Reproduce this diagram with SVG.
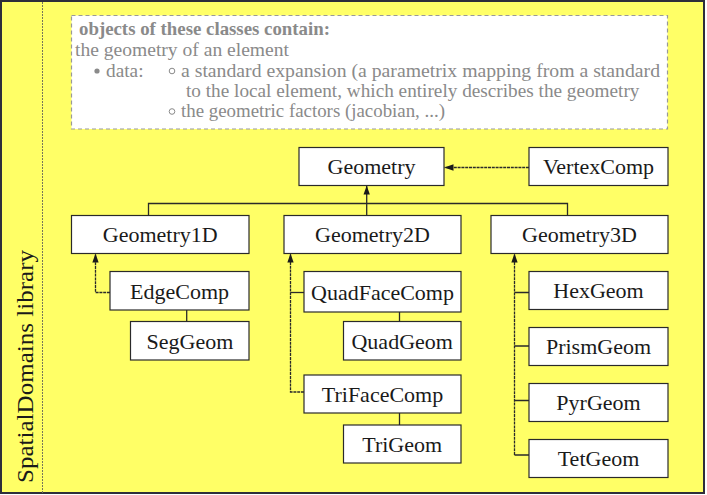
<svg xmlns="http://www.w3.org/2000/svg" width="707" height="495" viewBox="0 0 707 495">
<style>
.node rect{fill:#fff;stroke:#2a2a2a;stroke-width:1.2}
.node text{font-family:"Liberation Serif","Times New Roman",serif;font-size:22px;fill:#1a1a1a;text-anchor:middle}
.note{font-family:"Liberation Serif","Times New Roman",serif;font-size:19.5px;fill:#8a8a8a}
.solid{fill:none;stroke:#2a2a2a;stroke-width:1.3}
.dot{fill:none;stroke:#2a2a2a;stroke-width:1.3;stroke-dasharray:3,0.8}
</style>
<defs>
<marker id="arr" viewBox="0 0 10 10" refX="10" refY="5" markerWidth="9" markerHeight="9" markerUnits="userSpaceOnUse" orient="auto">
<path d="M0,1.5 L10,5 L0,8.5 Z" fill="#1a1a1a"/>
</marker>
</defs>
<rect x="1" y="1" width="703" height="492" fill="#ffff66" stroke="#2e2e3a" stroke-width="2"/>
<line x1="42.5" y1="2" x2="42.5" y2="493" stroke="#77775a" stroke-width="1" stroke-dasharray="2,1"/>
<text transform="translate(33,483) rotate(-90)" font-family="'Liberation Serif','Times New Roman',serif" font-size="24" fill="#1a1a1a" textLength="233" lengthAdjust="spacingAndGlyphs">SpatialDomains library</text>

<g id="note">
<rect x="71.5" y="15.5" width="596" height="113.5" fill="#fff" stroke="#999" stroke-width="1.2" stroke-dasharray="4,3"/>
<text class="note" x="79" y="35" font-weight="bold" font-size="19" textLength="251" lengthAdjust="spacingAndGlyphs">objects of these classes contain:</text>
<text class="note" x="75" y="55.5" textLength="214" lengthAdjust="spacingAndGlyphs">the geometry of an element</text>
<circle cx="97" cy="71" r="2.6" fill="#8a8a8a"/>
<text class="note" x="106" y="76.5" textLength="37.5" lengthAdjust="spacingAndGlyphs">data:</text>
<circle cx="172" cy="71" r="2.8" fill="none" stroke="#8a8a8a" stroke-width="1"/>
<text class="note" x="181" y="76.5" textLength="479" lengthAdjust="spacingAndGlyphs">a standard expansion (a parametrix mapping from a standard</text>
<text class="note" x="186" y="96.5" textLength="453.5" lengthAdjust="spacingAndGlyphs">to the local element, which entirely describes the geometry</text>
<circle cx="172" cy="111.5" r="2.8" fill="none" stroke="#8a8a8a" stroke-width="1"/>
<text class="note" x="181" y="117" textLength="264" lengthAdjust="spacingAndGlyphs">the geometric factors (jacobian, ...)</text>
</g>

<g id="connectors">
<line class="dot" x1="529" y1="167.5" x2="444.5" y2="167.5" marker-end="url(#arr)"/>
<path class="solid" d="M148.5,215 V203.5 H567.5 V215"/>
<line class="solid" x1="366.7" y1="215" x2="366.7" y2="185.5" marker-end="url(#arr)"/>
<path class="dot" d="M110,292.5 H95.5 V253.5" marker-end="url(#arr)"/>
<line class="solid" x1="186.7" y1="310" x2="186.7" y2="321"/>
<path class="solid" d="M304,292.5 H290.5"/>
<path class="dot" d="M304,392 H290.5 V253.5" marker-end="url(#arr)"/>
<line class="solid" x1="399.5" y1="312" x2="399.5" y2="321"/>
<line class="solid" x1="399.5" y1="413" x2="399.5" y2="425"/>
<path class="dot" d="M514.5,455 V253.5" marker-end="url(#arr)"/>
<path class="solid" d="M514.5,292.5 H529 M514.5,346 H529 M514.5,400.5 H529 M514.5,455 H529"/>
</g>

<g id="Geometry" class="node"><rect x="299" y="147.5" width="145" height="38"/><text x="371.5" y="174">Geometry</text></g>
<g id="VertexComp" class="node"><rect x="529" y="147.5" width="139" height="38"/><text x="598.5" y="174">VertexComp</text></g>
<g id="Geometry1D" class="node"><rect x="71.5" y="215.5" width="177.5" height="38"/><text x="160.2" y="242">Geometry1D</text></g>
<g id="Geometry2D" class="node"><rect x="284" y="215.5" width="177" height="38"/><text x="372.5" y="242">Geometry2D</text></g>
<g id="Geometry3D" class="node"><rect x="491" y="215.5" width="177" height="38"/><text x="579.5" y="242">Geometry3D</text></g>
<g id="EdgeComp" class="node"><rect x="110" y="271.5" width="139" height="38.5"/><text x="179.5" y="298.5">EdgeComp</text></g>
<g id="SegGeom" class="node"><rect x="130.5" y="321.5" width="118.5" height="38.5"/><text x="190" y="348.5">SegGeom</text></g>
<g id="QuadFaceComp" class="node"><rect x="304" y="271.5" width="157" height="40.5"/><text x="382.5" y="299.5">QuadFaceComp</text></g>
<g id="QuadGeom" class="node"><rect x="343.5" y="321.5" width="117.5" height="38.5"/><text x="402.2" y="348.5">QuadGeom</text></g>
<g id="TriFaceComp" class="node"><rect x="304" y="375" width="157" height="38"/><text x="382.5" y="401.5">TriFaceComp</text></g>
<g id="TriGeom" class="node"><rect x="343.5" y="425" width="117.5" height="38"/><text x="402.2" y="451.5">TriGeom</text></g>
<g id="HexGeom" class="node"><rect x="529" y="271.5" width="139" height="38"/><text x="598.5" y="298">HexGeom</text></g>
<g id="PrismGeom" class="node"><rect x="529" y="327.5" width="139" height="38"/><text x="598.5" y="354">PrismGeom</text></g>
<g id="PyrGeom" class="node"><rect x="529" y="383.5" width="139" height="38"/><text x="598.5" y="410">PyrGeom</text></g>
<g id="TetGeom" class="node"><rect x="529" y="439.5" width="139" height="38"/><text x="598.5" y="466">TetGeom</text></g>
</svg>
